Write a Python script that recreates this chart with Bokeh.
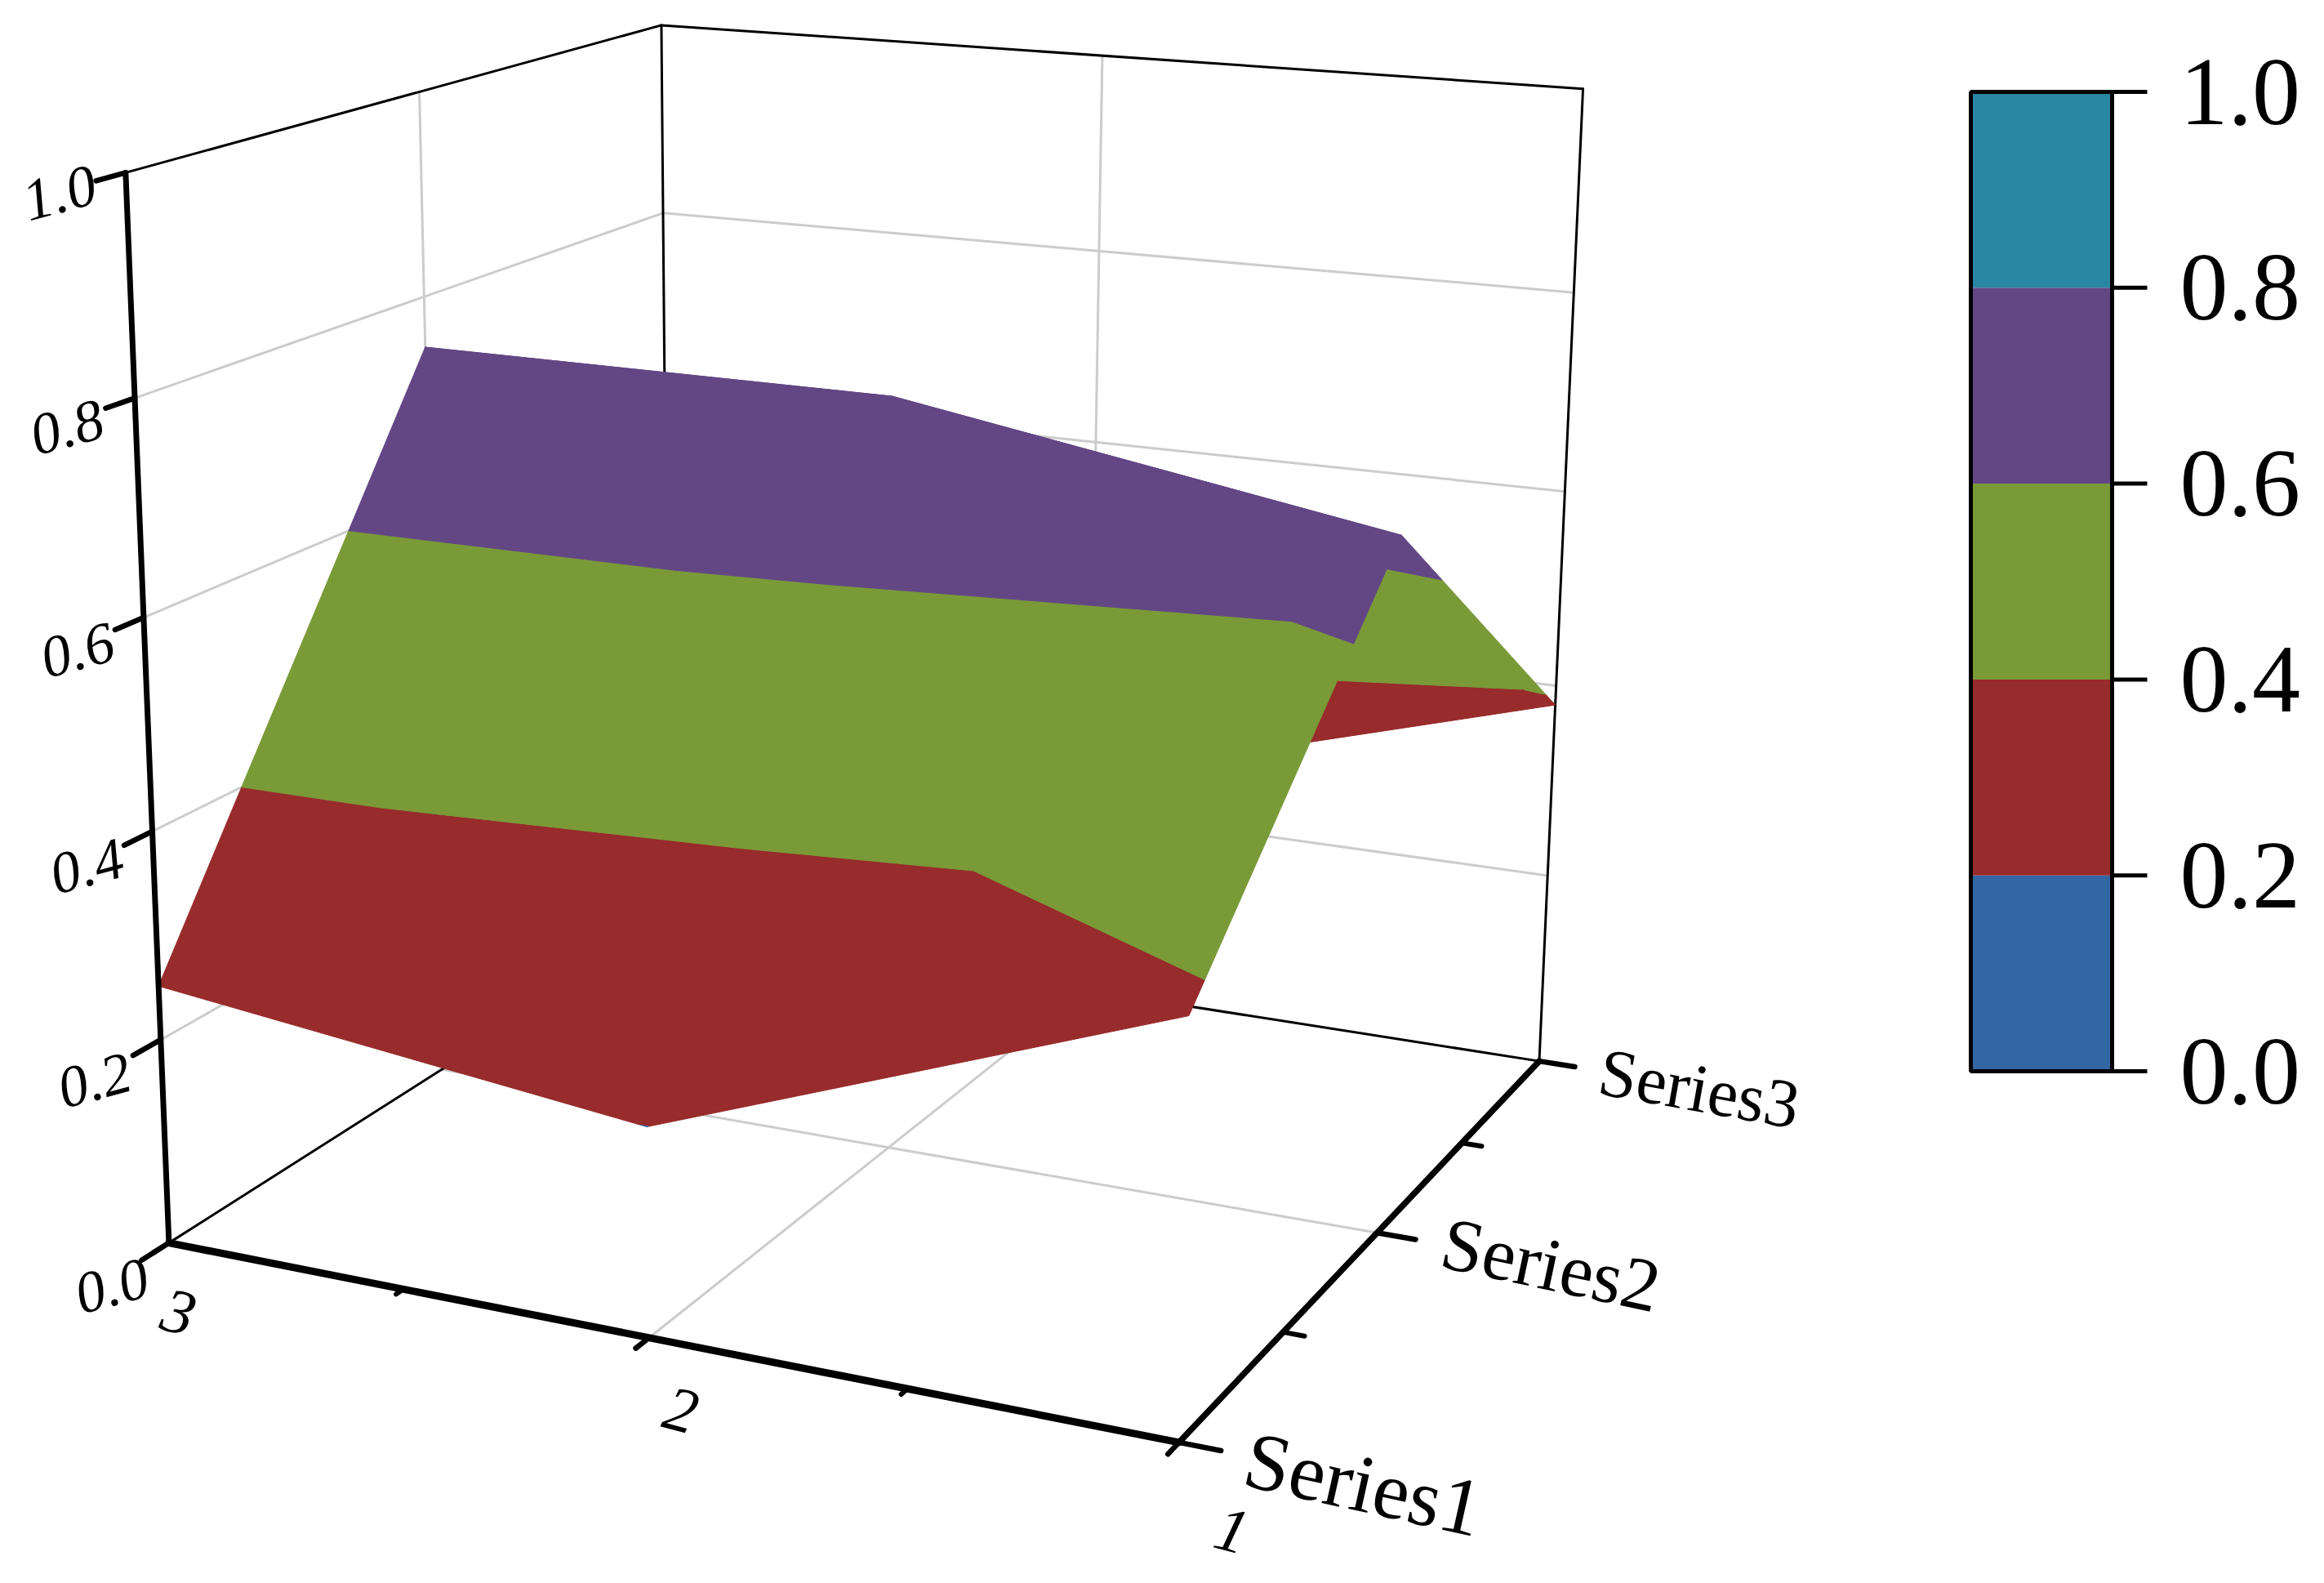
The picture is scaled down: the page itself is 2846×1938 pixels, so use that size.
import numpy as np
from bokeh.plotting import figure
from bokeh.models import Range1d
from bokeh.core.properties import value
from bokeh.embed import file_html
from bokeh.resources import INLINE

X_VALUES = [1, 2, 3]
Y_VALUES = [1, 2, 3]
X_LABELS = ["1", "2", "3"]
Y_LABELS = ["Series1", "Series2", "Series3"]
Z_SERIES1 = [0.38, 0.199, 0.252]
Z_SERIES2 = [0.67, 0.749, 0.75]
Z_SERIES3 = [0.38, 0.24, 0.15]
Z_TICKS = [0.0, 0.2, 0.4, 0.6, 0.8, 1.0]
Z_TICK_LABELS = ["0.0", "0.2", "0.4", "0.6", "0.8", "1.0"]
BAND_LEVELS = [0.0, 0.2, 0.4, 0.6, 0.8, 1.0]
BAND_COLORS = ["#3366a5", "#982b2b", "#7a9a38", "#634785", "#2a87a3"]

# camera calibration: box points and where they appear on the page
CAL_WORLD = [(3,1,0),(2,1,0),(1,1,0),(1,2,0),(1,3,0),(3,3,0),(3,1,.2),(3,1,.4),(3,1,.6),(3,1,.8),(3,1,1),
             (3,2,1),(3,3,1),(2,3,1),(1,3,1),(3,3,.8),(1,3,.8)]
CAL_PAGE = [(205.5,1520),(789,1641),(1445,1763),(1687,1509),(1883.5,1297),(820,1133),(199,1272),(186.5,1018),
            (177,755),(165,487),(152,210),(513,113),(810,29),(1347,69),(1938,109),(811,259),(1929,358)]

rows = []
for (X, Y, Z), (u, v) in zip(CAL_WORLD, CAL_PAGE):
    rows.append([X, Y, Z, 1, 0, 0, 0, 0, -u*X, -u*Y, -u*Z, -u])
    rows.append([0, 0, 0, 0, X, Y, Z, 1, -v*X, -v*Y, -v*Z, -v])
CAM = np.linalg.svd(np.array(rows, float))[2][-1].reshape(3, 4)

def P(x, y, z):
    h = CAM @ np.array([x, y, z, 1.0])
    return float(h[0]/h[2]), float(h[1]/h[2])

W, H = 2830, 1922
p = figure(width=W, height=H, x_range=Range1d(0, W), y_range=Range1d(H, 0),
           output_backend="svg", toolbar_location=None, min_border=0, outline_line_color=None)
p.axis.visible = False
p.grid.visible = False
FONT = value("Liberation Serif")

def seg(a, b, color, width):
    (x0, y0), (x1, y1) = P(*a), P(*b)
    p.line([x0, x1], [y0, y1], line_color=color, line_width=width, line_cap="round")

GRID = "#cccccc"
# left wall and back wall gridlines
for z in Z_TICKS[1:-1]:
    seg((3,1,z), (3,3,z), GRID, 3)
    seg((3,3,z), (1,3,z), GRID, 3)
seg((3,2,0), (3,2,1), GRID, 3)
seg((2,3,0), (2,3,1), GRID, 3)
# floor gridlines
seg((2,1,0), (2,3,0), GRID, 3)
seg((1,2,0), (3,2,0), GRID, 3)
# thin box lines
for a, b in [((3,1,1),(3,3,1)), ((3,3,1),(1,3,1)), ((1,3,1),(1,3,0)), ((3,3,1),(3,3,0)),
             ((3,1,0),(3,3,0)), ((3,3,0),(1,3,0))]:
    seg(a, b, "black", 3)

# surface
Z_GRID = np.array([Z_SERIES1, Z_SERIES2, Z_SERIES3])

def clip(poly, level, keep_above):
    out = []
    n = len(poly)
    for i in range(n):
        a, b = poly[i], poly[(i+1) % n]
        ina = (a[2] >= level) if keep_above else (a[2] <= level)
        inb = (b[2] >= level) if keep_above else (b[2] <= level)
        if ina:
            out.append(a)
        if ina != inb:
            t = (level-a[2])/(b[2]-a[2])
            out.append(tuple(a[k]+t*(b[k]-a[k]) for k in range(3)))
    return out

def vert(i, j):
    return (X_VALUES[i], Y_VALUES[j], float(Z_GRID[j, i]))

xs, ys, cs = [], [], []
for j in [1, 0]:
    for i in [1, 0]:
        # i+1 is the x further left on the page
        tris = [[vert(i+1, j), vert(i, j), vert(i, j+1)],
                [vert(i+1, j), vert(i, j+1), vert(i+1, j+1)]]
        for tri in tris:
            for k, col in enumerate(BAND_COLORS):
                poly = clip(tri, BAND_LEVELS[k], True)
                if poly:
                    poly = clip(poly, BAND_LEVELS[k+1], False)
                if len(poly) >= 3:
                    pts = [P(*q) for q in poly]
                    xs.append([q[0] for q in pts]); ys.append([q[1] for q in pts]); cs.append(col)
p.patches(xs, ys, fill_color=cs, line_color=cs, line_width=1)

# axes
seg((3,1,0), (3,1,1), "black", 7)
seg((3,1,0), (1,1,0), "black", 9)
seg((1,1,0), (1,3,0), "black", 7.5)
for z in Z_TICKS:
    seg((3,1,z), (3,1-0.09,z), "black", 6.5)
for x in X_VALUES:
    seg((x,1,0), (x,1-0.05,0), "black", 6.5)
for x in [1.5, 2.5]:
    seg((x,1,0), (x,1-0.025,0), "black", 6)
for y in Y_VALUES:
    seg((1,y,0), (1-0.075,y,0), "black", 6.5)
for y in [1.5, 2.5]:
    seg((1,y,0), (1-0.04,y,0), "black", 6)

# tick labels
Z_LABEL_OFFSET = [(-70,53),(-81,50),(-80,43),(-81,40),(-83,36),(-81,25)]
for z, t, (dx, dy) in zip(Z_TICKS, Z_TICK_LABELS, Z_LABEL_OFFSET):
    u, v = P(3, 1, z)
    p.text([u+dx], [v+dy], text=[t], text_font=FONT, text_font_style="italic", text_font_size="72px",
           text_align="center", text_baseline="middle", angle=np.radians(15))
X_LABEL_OFFSET = [(65,108),(39,89),(12,85)]
for x, t, (dx, dy) in zip(X_VALUES, X_LABELS, X_LABEL_OFFSET):
    u, v = P(x, 1, 0)
    p.text([u+dx], [v+dy], text=[t], text_font=FONT, text_font_style="italic", text_font_size="78px",
           text_align="center", text_baseline="middle", angle=np.radians(-15))
Y_LABEL_OFFSET = [(226,51),(213,39),(196,33)]
Y_LABEL_SIZE = ["100px", "92px", "84px"]
Y_LABEL_ANGLE = [-12.5, -12, -10]
for y, t, (dx, dy), fs, ang in zip(Y_VALUES, Y_LABELS, Y_LABEL_OFFSET, Y_LABEL_SIZE, Y_LABEL_ANGLE):
    u, v = P(1, y, 0)
    p.text([u+dx], [v+dy], text=[t], text_font=FONT, text_font_size=fs,
           text_align="center", text_baseline="middle", angle=np.radians(ang))

# colour scale
CB_L, CB_R, CB_TOP, CB_BOT = 2413, 2586, 112, 1311
def cb_y(val):
    return CB_BOT + (CB_TOP-CB_BOT)*(val-BAND_LEVELS[0])/(BAND_LEVELS[-1]-BAND_LEVELS[0])
p.quad(left=[CB_L]*5, right=[CB_R]*5, top=[cb_y(v) for v in BAND_LEVELS[1:]],
       bottom=[cb_y(v) for v in BAND_LEVELS[:-1]], fill_color=BAND_COLORS, line_color=None)
p.quad(left=[CB_L], right=[CB_R], top=[CB_TOP], bottom=[CB_BOT], fill_color=None, line_color="black", line_width=5)
p.segment(x0=[CB_R]*6, x1=[2629]*6, y0=[cb_y(v) for v in Z_TICKS], y1=[cb_y(v) for v in Z_TICKS],
          line_color="black", line_width=5)
p.text([2669]*6, [cb_y(v) for v in Z_TICKS], text=Z_TICK_LABELS, text_font=FONT, text_font_size="118px",
       text_align="left", text_baseline="middle")

open("out.html", "w").write(file_html(p, INLINE))
